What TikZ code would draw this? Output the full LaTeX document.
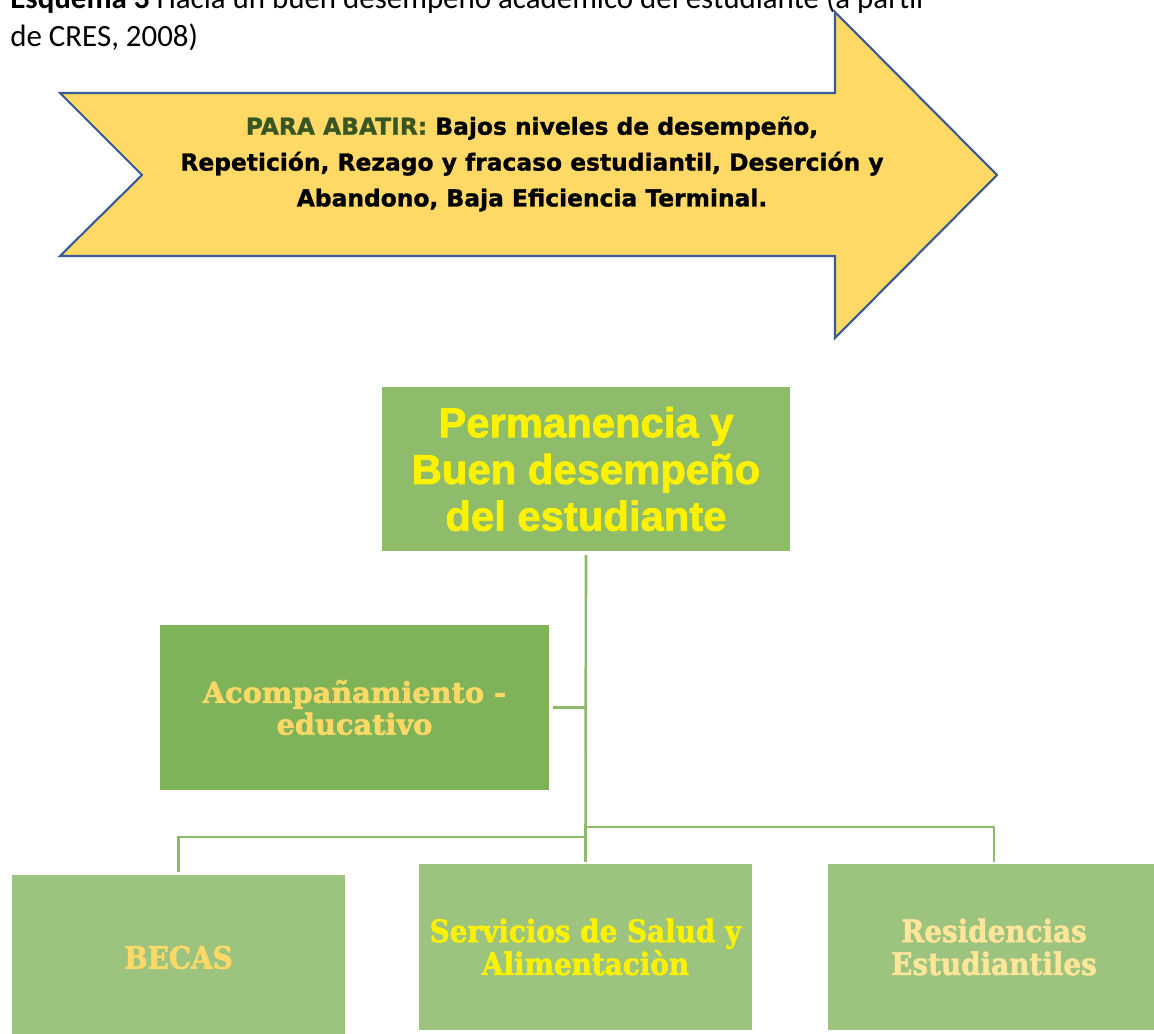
\documentclass[tikz,border=0pt]{standalone}
\usepackage{fontspec}
\usepackage{xcolor}
\usepackage{tikz}
\usetikzlibrary{positioning, calc}
\newfontfamily\capfont{Carlito}
\newfontfamily\arrowfont{DejaVu Sans}[BoldFeatures={FakeBold=1.2}]
\newfontfamily\boxfont{Liberation Sans}[BoldFeatures={FakeBold=1.8}]
\newfontfamily\acofont{DejaVu Serif}[BoldFeatures={FakeBold=1.8}]
\newfontfamily\condfont{DejaVu Serif Condensed}[BoldFeatures={FakeBold=1.5}]
\definecolor{egold}{HTML}{FFD966}
\definecolor{eblue}{HTML}{3A5A95}
\definecolor{edkgreen}{HTML}{375623}
\definecolor{egreen}{HTML}{8EBC6A}
\definecolor{emid}{HTML}{7FB35A}
\definecolor{elight}{HTML}{9DC47F}
\definecolor{eline}{HTML}{8DBB6A}
\definecolor{ecream}{HTML}{FFE699}
\tikzset{
  gbox/.style={inner sep=0pt, align=center},
  lowbox/.style={gbox, fill=elight, minimum width=6.66cm, minimum height=3.32cm,
    font=\condfont\bfseries\fontsize{17.6}{18.7}\selectfont},
  link/.style={draw=eline, line width=1.5pt}
}

\begin{document}
\begin{tikzpicture}[x=0.02cm, y=-0.02cm]
\useasboundingbox (0,0) rectangle (1154,1034);
\node[anchor=base west, inner sep=0pt, align=left, font=\capfont\fontsize{17.6}{21.8}\selectfont]
  (cap) at (10,47) {\textbf{Esquema 3} Hacia un buen desempeño académico del estudiante (a partir\\de CRES, 2008)};
\filldraw[fill=egold, draw=eblue, line width=1.2pt]
  (60,93) -- (835,93) -- (835,12) -- (997,175) -- (835,338) -- (835,256) -- (60,256) -- (142,175) -- cycle;
\node[gbox, font=\arrowfont\bfseries\fontsize{13.3}{20.4}\selectfont]
  (abatir) at (532,164) {{\color{edkgreen}PARA ABATIR:} Bajos niveles de desempeño,\\Repetición, Rezago y fracaso estudiantil, Deserción y\\Abandono, Baja Eficiencia Terminal.};
\node[gbox, fill=egreen, minimum width=8.16cm, minimum height=3.28cm, text=yellow,
  font=\boxfont\bfseries\fontsize{23.8}{26.6}\selectfont]
  (meta) at (586,469) {Permanencia y\\Buen desempeño\\del estudiante};
\node[gbox, fill=emid, minimum width=7.78cm, minimum height=3.3cm, text=egold,
  font=\acofont\bfseries\fontsize{16.4}{18.1}\selectfont]
  (aco) at (354.5,707.5) {Acompañamiento -\\educativo};
\node[lowbox, text=egold] (becas) at (178.5,957.5) {BECAS};
\node[lowbox, text=yellow] (serv) at (585.5,947) {Servicios de Salud y\\Alimentaciòn};
\node[lowbox, text=ecream] (resi) at (994,947) {Residencias\\Estudiantiles};
\coordinate (jl) at (586,837);
\coordinate (jr) at (586,827);
\draw[link, shorten <=2pt, shorten >=1pt] (meta.south) -- (serv.north);
\draw[link, shorten <=2pt] (aco.east) -- (aco.east -| meta.south);
\draw[link, shorten >=1.5pt] (jl) -| (becas.north);
\draw[link, shorten >=1pt] (jr) -| (resi.north);
\end{tikzpicture}
\end{document}
